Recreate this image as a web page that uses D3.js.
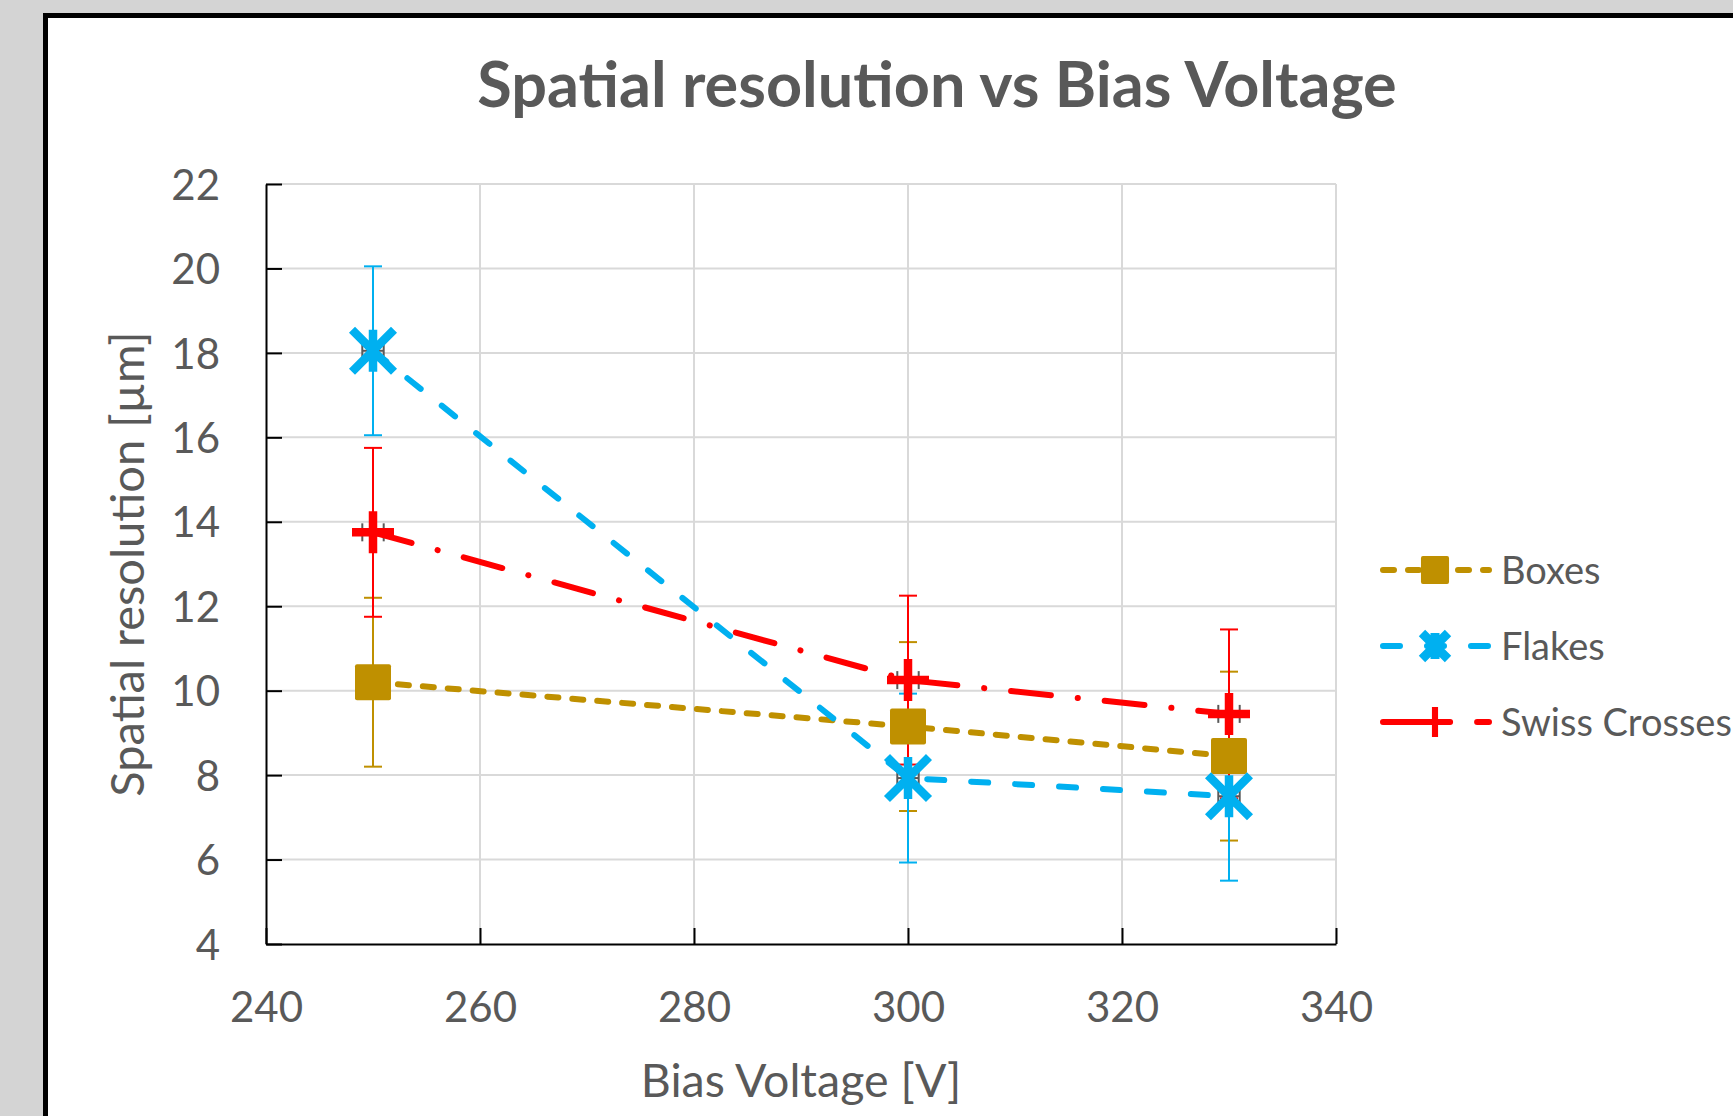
<!DOCTYPE html>
<html>
<head>
<meta charset="utf-8">
<script src="https://cdn.jsdelivr.net/npm/d3@7"></script>
<style>
  html, body { margin: 0; padding: 0; background: #d4d4d4; }
  svg { display: block; }
</style>
</head>
<body>
<svg id="chart" width="1733" height="1116"></svg>
<script>
// ---------------- data ----------------
const voltages = [250, 300, 330];
const seriesNames = ["Boxes", "Flakes", "Swiss Crosses"];
const boxesValues = [10.2, 9.15, 8.45];
const flakesValues = [18.05, 7.93, 7.5];
const swissValues = [13.75, 10.25, 9.45];
const boxesErr = [2, 2, 2];
const flakesErr = [2, 2, 2];
const swissErr = [2, 2, 2];
const voltageErr = [1, 1, 1];
const xTicks = [240, 260, 280, 300, 320, 340];
const yTicks = [4, 6, 8, 10, 12, 14, 16, 18, 20, 22];
const titleText = "Spatial resolution vs Bias Voltage";
const xTitle = "Bias Voltage [V]";
const yTitle = "Spatial resolution [µm]";

// ---------------- styles ----------------
const styles = {
  "Boxes": { color: "#BF9000", dash: "11,14", marker: "square" },
  "Flakes": { color: "#00B0F0", dash: "17,27", marker: "star" },
  "Swiss Crosses": { color: "#FF0000", dash: "40,27,0.1,27", marker: "plus" }
};
const series = [
  { name: seriesNames[0], values: boxesValues, err: boxesErr },
  { name: seriesNames[1], values: flakesValues, err: flakesErr },
  { name: seriesNames[2], values: swissValues, err: swissErr }
];

const svg = d3.select("#chart");
const FONT = "Lato, 'Open Sans', sans-serif";
const TXT = "#595959";

// chart frame
svg.append("rect").attr("x", 45.5).attr("y", 15.5)
  .attr("width", 2000).attr("height", 2000)
  .attr("fill", "#ffffff").attr("stroke", "#000").attr("stroke-width", 5);

const x = d3.scaleLinear().domain([240, 340]).range([266, 1336]);
const y = d3.scaleLinear().domain([4, 22]).range([944, 184]);

// gridlines
const grid = svg.append("g");
grid.selectAll("line.h").data(yTicks.slice(1)).join("line")
  .attr("x1", x(240)).attr("x2", x(340))
  .attr("y1", d => y(d)).attr("y2", d => y(d))
  .attr("stroke", "#d9d9d9").attr("stroke-width", 2);
grid.selectAll("line.v").data(xTicks.slice(1)).join("line")
  .attr("y1", y(4)).attr("y2", y(22))
  .attr("x1", d => x(d)).attr("x2", d => x(d))
  .attr("stroke", "#d9d9d9").attr("stroke-width", 2);

// axes
const yAxis = d3.axisLeft(y).tickValues(yTicks).tickSizeInner(-16).tickSizeOuter(0).tickPadding(46);
const xAxis = d3.axisBottom(x).tickValues(xTicks).tickSizeInner(-16).tickSizeOuter(0).tickPadding(48);
const gy = svg.append("g").attr("transform", `translate(${x(240)},0)`).call(yAxis);
const gx = svg.append("g").attr("transform", `translate(0,${y(4)})`).call(xAxis);
[gx, gy].forEach(g => {
  g.select(".domain").attr("stroke", "#000").attr("stroke-width", 2);
  g.selectAll(".tick line").attr("stroke", "#000").attr("stroke-width", 2);
  g.selectAll(".tick text").attr("fill", TXT).attr("font-family", FONT).attr("font-size", 42);
});
gy.selectAll(".tick text").attr("dy", "0.36em");
gx.selectAll(".tick text").attr("dy", "0.71em");

// titles
svg.append("text").attr("x", 937).attr("y", 107).attr("text-anchor", "middle")
  .attr("font-family", FONT).attr("font-weight", "bold").attr("font-size", 63)
  .attr("fill", TXT).text(titleText);
svg.append("text").attr("x", 801).attr("y", 1097).attr("text-anchor", "middle")
  .attr("font-family", FONT).attr("font-size", 46.5).attr("fill", TXT).text(xTitle);
svg.append("text").attr("transform", `translate(144,564) rotate(-90)`).attr("text-anchor", "middle")
  .attr("font-family", FONT).attr("font-size", 47).attr("fill", TXT).text(yTitle);

// marker drawing
function drawMarker(g, type, cx, cy, color, s) {
  if (type === "square") {
    g.append("rect").attr("x", cx - 18 * s).attr("y", cy - 18 * s)
      .attr("width", 36 * s).attr("height", 36 * s).attr("rx", 2)
      .attr("fill", color);
  } else if (type === "star") {
    const h = 21 * s;
    const p = `M${cx - h},${cy - h}L${cx + h},${cy + h}M${cx - h},${cy + h}L${cx + h},${cy - h}M${cx},${cy - h}L${cx},${cy + h}`;
    g.append("path").attr("d", p).attr("stroke", color).attr("stroke-width", 8.5 * s)
      .attr("fill", "none").attr("stroke-linecap", "butt");
  } else if (type === "plus") {
    const h = 21 * s;
    const p = `M${cx - h},${cy}L${cx + h},${cy}M${cx},${cy - h}L${cx},${cy + h}`;
    g.append("path").attr("d", p).attr("stroke", color).attr("stroke-width", 8.5 * s)
      .attr("fill", "none");
  }
}

// error bars
const errG = svg.append("g");
series.forEach(s => {
  const st = styles[s.name];
  voltages.forEach((v, i) => {
    const cx = x(v), cy = y(s.values[i]);
    const yt = y(s.values[i] + s.err[i]), yb = y(s.values[i] - s.err[i]);
    errG.append("line").attr("x1", cx).attr("x2", cx).attr("y1", yt).attr("y2", yb)
      .attr("stroke", st.color).attr("stroke-width", 2);
    [yt, yb].forEach(yy => errG.append("line").attr("x1", cx - 9).attr("x2", cx + 9)
      .attr("y1", yy).attr("y2", yy).attr("stroke", st.color).attr("stroke-width", 2));
    // horizontal (voltage) error bars
    const xl = x(v - voltageErr[i]), xr = x(v + voltageErr[i]);
    errG.append("line").attr("x1", xl).attr("x2", xr).attr("y1", cy).attr("y2", cy)
      .attr("stroke", "#595959").attr("stroke-width", 2);
    [xl, xr].forEach(xx => errG.append("line").attr("x1", xx).attr("x2", xx)
      .attr("y1", cy - 9).attr("y2", cy + 9).attr("stroke", "#595959").attr("stroke-width", 2));
  });
});

// lines
const lineG = svg.append("g");
const lineGen = d3.line().x(d => x(d[0])).y(d => y(d[1]));
series.forEach(s => {
  const st = styles[s.name];
  lineG.append("path").attr("d", lineGen(voltages.map((v, i) => [v, s.values[i]])))
    .attr("fill", "none").attr("stroke", st.color).attr("stroke-width", 6)
    .attr("stroke-dasharray", st.dash).attr("stroke-linecap", "round");
});

// markers
const markG = svg.append("g");
series.forEach(s => {
  const st = styles[s.name];
  voltages.forEach((v, i) => drawMarker(markG, st.marker, x(v), y(s.values[i]), st.color, 1));
});

// legend
const legG = svg.append("g");
const legendY = [570, 646, 722];
series.forEach((s, i) => {
  const st = styles[s.name];
  const ly = legendY[i];
  legG.append("line").attr("x1", 1383).attr("x2", 1489).attr("y1", ly).attr("y2", ly)
    .attr("stroke", st.color).attr("stroke-width", 6)
    .attr("stroke-dasharray", st.dash).attr("stroke-linecap", "round");
  drawMarker(legG, st.marker, 1435, ly, st.color, st.marker === "square" ? 0.78 : (st.marker === "star" ? 0.62 : 0.72));
  if (st.marker === "star") {
    legG.select("path:last-of-type").attr("stroke-width", 9);
  }
  legG.append("text").attr("x", 1501).attr("y", ly).attr("dy", "0.36em")
    .attr("font-family", FONT).attr("font-size", 38).attr("fill", TXT).text(s.name);
});
</script>
</body>
</html>
